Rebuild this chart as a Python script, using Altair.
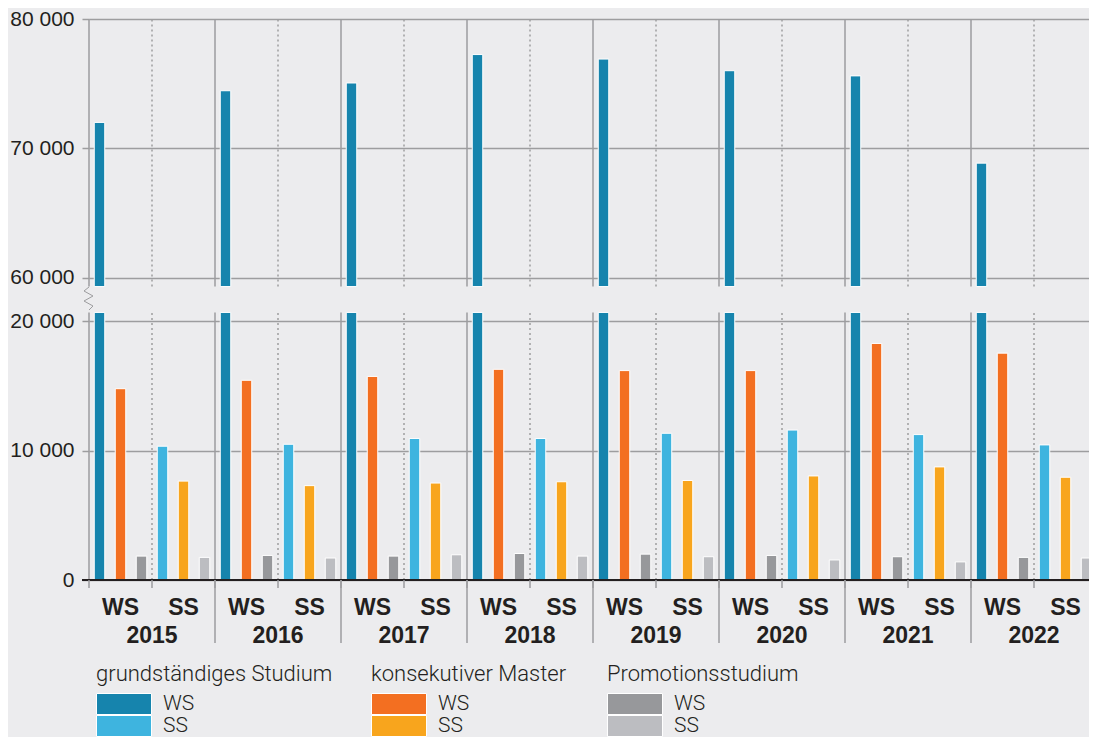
import altair as alt
import pandas as pd

# ---------------- data ----------------
years = ["2015", "2016", "2017", "2018", "2019", "2020", "2021", "2022"]
semesters = ["WS", "SS"]
programs = ["grundständiges Studium", "konsekutiver Master", "Promotionsstudium"]

grund_ws = [72000, 74450, 75050, 77250, 76900, 76000, 75600, 68850]
grund_ss = [10350, 10500, 10950, 10950, 11350, 11600, 11250, 10450]
kons_ws = [14800, 15450, 15750, 16300, 16200, 16200, 18300, 17550]
kons_ss = [7650, 7300, 7500, 7600, 7700, 8050, 8750, 7950]
prom_ws = [1850, 1900, 1850, 2050, 2000, 1900, 1800, 1750]
prom_ss = [1750, 1700, 1950, 1850, 1800, 1550, 1400, 1700]

y_ticks_low = [0, 10000, 20000]
y_ticks_high = [60000, 70000, 80000]

colors = {
    programs[0]: ["#1684ad", "#3eb4df"],
    programs[1]: ["#f36f21", "#f8a51d"],
    programs[2]: ["#97989b", "#bcbdc1"],
}

series = {
    ("WS", programs[0]): grund_ws,
    ("WS", programs[1]): kons_ws,
    ("WS", programs[2]): prom_ws,
    ("SS", programs[0]): grund_ss,
    ("SS", programs[1]): kons_ss,
    ("SS", programs[2]): prom_ss,
}
slots = [f"{s}|{p}" for s in semesters for p in programs]

rows = []
for i, yr in enumerate(years):
    for s in semesters:
        for p in programs:
            rows.append(dict(year=yr, sem=s, prog=p, slot=f"{s}|{p}",
                             value=series[(s, p)][i]))
df = pd.DataFrame(rows)

# ---------------- broken axis ----------------
LOW_TOP = 20700       # top of the lower panel
HIGH_BOTTOM = 59300   # bottom of the upper panel
GAP = 2000            # visual gap in data units
SHIFT = HIGH_BOTTOM - LOW_TOP - GAP
Y_MAX = 80000 - SHIFT

BG = "#ececee"
GRID = "#9d9d9f"
INK = "#231f20"
W, H = 1000, 561
YEAR_STEP = 126
AXFONT = "Liberation Sans"
LEGFONT = "Roboto"

xs = alt.Scale(domain=years, range=[0, YEAR_STEP * len(years)],
               paddingInner=0, paddingOuter=0)
xo = alt.Scale(domain=slots, paddingInner=0.5, paddingOuter=0.25)
ys = alt.Scale(domain=[0, Y_MAX], nice=False, zero=False)

v_expr = f"(datum.value > {LOW_TOP} ? datum.value + {SHIFT} : datum.value)"
lab_expr = f"{v_expr} == 0 ? '0' : floor({v_expr} / 1000) + ' 000'"
y_axis = alt.Axis(
    values=y_ticks_low + [t - SHIFT for t in y_ticks_high],
    labelExpr=lab_expr, title=None, grid=True, gridColor=GRID, gridWidth=1.5,
    domain=False, ticks=True, tickSize=7, tickColor=GRID, tickWidth=1.5,
    labelPadding=8, labelFont=AXFONT, labelFontSize=21, labelColor=INK,
)


def X(bp=None):
    if bp is None:
        return alt.X("year:N", scale=xs, axis=None)
    return alt.X("year:N", scale=xs, axis=None, bandPosition=bp)


seg = pd.DataFrame([{"year": yr, "y0": a, "y1": b} for yr in years
                    for (a, b) in [(0, LOW_TOP), (LOW_TOP + GAP, Y_MAX)]])
yrs = pd.DataFrame({"year": years})
one = pd.DataFrame({"v": [0]})

year_lines = alt.Chart(seg).mark_rule(color=GRID, strokeWidth=1.5).encode(
    x=X(0), y=alt.Y("y0:Q", scale=ys, axis=y_axis), y2="y1:Q")
mid_lines = alt.Chart(seg).mark_rule(color=GRID, strokeWidth=1.5,
                                     strokeDash=[2, 3]).encode(
    x=X(0.5), y=alt.Y("y0:Q", scale=ys, axis=y_axis), y2="y1:Q")

SWATCH = "M-1,-1H4.24V1H-1Z"
leg_x = {programs[0]: 7, programs[1]: 282, programs[2]: 518}


def legend_for(p):
    return alt.Legend(
        title=p, orient="none", legendX=leg_x[p], legendY=645,
        direction="vertical", symbolType=SWATCH, symbolSize=441,
        symbolStrokeColor="white", symbolStrokeWidth=1, symbolOpacity=1,
        rowPadding=0, labelOffset=45, padding=0, titlePadding=7,
        clipHeight=22,
        titleFont=LEGFONT, titleFontSize=22, titleFontWeight=300,
        titleColor=INK, titleLimit=400,
        labelFont=LEGFONT, labelFontSize=21, labelFontWeight=300,
        labelColor=INK,
    )


def bars_low(p):
    return alt.Chart(df).transform_filter(alt.datum.prog == p).transform_calculate(
        top=f"min(datum.value, {LOW_TOP})"
    ).mark_bar(stroke="white", strokeWidth=1).encode(
        x=X(), xOffset=alt.XOffset("slot:N", scale=xo),
        y=alt.Y("top:Q", scale=ys, axis=y_axis, stack=None),
        color=alt.Color("sem:N", scale=alt.Scale(domain=semesters, range=colors[p]),
                        legend=legend_for(p)),
    )


bars_high = alt.Chart(df).transform_filter(
    (alt.datum.prog == programs[0]) & (alt.datum.value > HIGH_BOTTOM)
).transform_calculate(
    top=f"datum.value - {SHIFT}", bot=f"{LOW_TOP + GAP}"
).mark_bar(stroke="white", strokeWidth=1).encode(
    x=X(), xOffset=alt.XOffset("slot:N", scale=xo),
    y=alt.Y("top:Q", scale=ys, axis=y_axis, stack=None), y2="bot:Q",
    color=alt.Color("sem:N", scale=alt.Scale(domain=semesters, range=colors[programs[0]]),
                    legend=None),
)

zero_line = alt.Chart(one).mark_rule(color=INK, strokeWidth=2).encode(
    y=alt.Y("v:Q", scale=ys, axis=y_axis), x=alt.value(-7), x2=alt.value(W))

tick_mid = alt.Chart(yrs).mark_rule(color=GRID, strokeWidth=1.5).encode(
    x=X(0.5), y=alt.value(H), y2=alt.value(H + 8))
tick_start = alt.Chart(yrs).mark_rule(color=GRID, strokeWidth=1.5).encode(
    x=X(0), y=alt.value(H), y2=alt.value(H + 8))
tick_long = alt.Chart(yrs).transform_filter(alt.datum.year != years[0]).mark_rule(
    color=GRID, strokeWidth=1.5).encode(x=X(0), y=alt.value(H), y2=alt.value(H + 63))

sem_text = alt.Chart(df).transform_filter(alt.datum.prog == programs[1]).mark_text(
    font=AXFONT, fontSize=23, fontWeight="bold", color=INK, baseline="alphabetic",
    align="center").encode(
    x=X(), xOffset=alt.XOffset("slot:N", scale=xo), y=alt.value(H + 35), text="sem:N")
year_text = alt.Chart(yrs).mark_text(
    font=AXFONT, fontSize=23, fontWeight="bold", color=INK, baseline="alphabetic",
    align="center").encode(x=X(), y=alt.value(H + 63), text="year:N")

# break symbol on the value axis
zig = [(0, 268), (-5, 272), (4, 277), (-5, 282), (4, 287), (0, 291)]
zig_layers = [
    alt.Chart(one).mark_rule(color=GRID, strokeWidth=1).encode(
        x=alt.value(a[0]), y=alt.value(a[1]), x2=alt.value(b[0]), y2=alt.value(b[1]))
    for a, b in zip(zig[:-1], zig[1:])
]

chart = alt.layer(
    year_lines, mid_lines,
    bars_low(programs[0]), bars_high, bars_low(programs[1]), bars_low(programs[2]),
    zero_line, tick_mid, tick_start, tick_long, sem_text, year_text,
    *zig_layers,
).resolve_scale(color="independent").properties(
    width=W, height=H,
    autosize=alt.AutoSizeParams(type="none"),
    padding={"left": 81, "top": 11, "right": 0, "bottom": 157},
).configure(background=BG).configure_view(stroke=None)

chart.save("out.html", embed_options={"renderer": "svg", "actions": False})
